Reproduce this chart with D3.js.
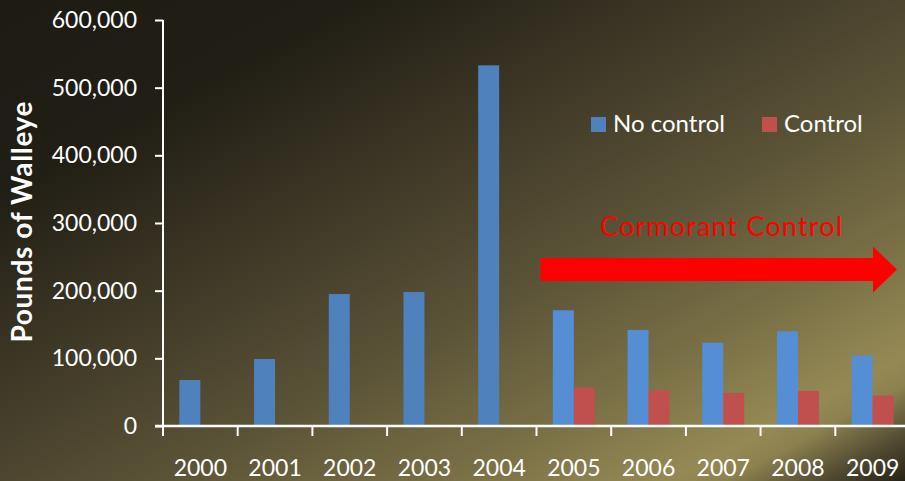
<!DOCTYPE html>
<html>
<head>
<meta charset="utf-8">
<script src="https://cdn.jsdelivr.net/npm/d3@7"></script>
<style>
  html, body { margin: 0; padding: 0; background: #1d1b13; }
  svg { display: block; font-family: Lato, "Open Sans", sans-serif; }
</style>
</head>
<body>
<div id="vis"></div>
<script>
// data
const years = ["2000", "2001", "2002", "2003", "2004", "2005", "2006", "2007", "2008", "2009"];
const noControl = [68000, 99000, 195000, 198000, 533000, 171000, 142000, 123000, 140000, 104000];
const control = [null, null, null, null, null, 57000, 53000, 49000, 52000, 45000];
const seriesNames = ["No control", "Control"];
const yTicks = [0, 100000, 200000, 300000, 400000, 500000, 600000];

const width = 905, height = 481;
const plotLeft = 163, plotRight = 910, plotTop = 20, plotBottom = 426;

const svg = d3.select("#vis").append("svg")
  .attr("width", width)
  .attr("height", height);

// background gradient
const defs = svg.append("defs");
const grad = defs.append("linearGradient")
  .attr("id", "bg")
  .attr("x1", 0).attr("y1", 0).attr("x2", 1).attr("y2", 1);
[[0, "#1d1b13"], [0.2, "#211e15"], [0.45, "#463f2b"], [0.6, "#5d5538"],
 [0.75, "#7a7046"], [0.87, "#958a55"], [0.9, "#8c814f"], [0.95, "#554e34"], [1, "#262218"]]
  .forEach(s => grad.append("stop").attr("offset", s[0]).attr("stop-color", s[1]));
svg.append("rect").attr("width", width).attr("height", height).attr("fill", "url(#bg)");

const x0 = d3.scaleBand().domain(years).range([plotLeft, plotRight]).padding(0);
const x1 = d3.scaleBand().domain(seriesNames).range([0, x0.bandwidth()])
  .paddingInner(0).paddingOuter(0.78);
const y = d3.scaleLinear().domain([0, 600000]).range([plotBottom, plotTop]);

const rows = years.map((yr, i) => ({ year: yr, vals: [
  { s: "No control", v: noControl[i] },
  { s: "Control", v: control[i] }
]}));

const colors = { "No control": "#4f81bd", "Control": "#c0504d" };

// bars
const groups = svg.append("g").selectAll("g")
  .data(rows)
  .join("g")
    .attr("transform", d => `translate(${x0(d.year)},0)`);

groups.selectAll("rect")
  .data(d => d.vals.filter(v => v.v != null).map(v => ({ ...v, year: d.year })))
  .join("rect")
    .attr("x", d => x1(d.s))
    .attr("y", d => y(d.v))
    .attr("width", x1.bandwidth())
    .attr("height", d => y(0) - y(d.v))
    .attr("fill", d => (d.s === "No control" && +d.year >= 2005) ? "#558ed5" : colors[d.s]);

// y axis
const yAxis = svg.append("g")
  .attr("transform", `translate(${plotLeft},0)`)
  .call(d3.axisLeft(y).tickValues(yTicks).tickFormat(d3.format(",")).tickSize(8).tickPadding(18));
yAxis.select(".domain").remove();
yAxis.selectAll(".tick line").attr("stroke", "white").attr("stroke-width", 2);
yAxis.selectAll(".tick text")
  .attr("fill", "white")
  .style("font-size", "23px")
  .style("font-family", "Lato, sans-serif");
svg.append("line")
  .attr("x1", plotLeft).attr("x2", plotLeft)
  .attr("y1", plotTop).attr("y2", plotBottom + 10)
  .attr("stroke", "white").attr("stroke-width", 2);

// x axis
svg.append("line")
  .attr("x1", plotLeft - 8).attr("x2", width)
  .attr("y1", plotBottom).attr("y2", plotBottom)
  .attr("stroke", "white").attr("stroke-width", 2.5);
svg.append("g").selectAll("line")
  .data(years)
  .join("line")
    .attr("x1", d => x0(d)).attr("x2", d => x0(d))
    .attr("y1", plotBottom).attr("y2", plotBottom + 10)
    .attr("stroke", "white").attr("stroke-width", 2);
svg.append("g").selectAll("text")
  .data(years)
  .join("text")
    .attr("x", d => x0(d) + x0.bandwidth() / 2)
    .attr("y", 476)
    .attr("text-anchor", "middle")
    .attr("fill", "white")
    .style("font-size", "23px")
    .text(d => d);

// y title
svg.append("text")
  .attr("transform", "translate(32,222) rotate(-90)")
  .attr("text-anchor", "middle")
  .attr("fill", "white")
  .style("font-size", "28px")
  .style("font-weight", "bold")
  .attr("textLength", 241)
  .text("Pounds of Walleye");

// legend
const legend = svg.append("g").selectAll("g")
  .data(seriesNames)
  .join("g")
    .attr("transform", (d, i) => `translate(${[591, 762][i]},117)`);
legend.append("rect")
  .attr("width", 15).attr("height", 15)
  .attr("fill", d => colors[d]);
legend.append("text")
  .attr("x", 22).attr("y", 15)
  .attr("fill", "white")
  .style("font-size", "24px")
  .text(d => d);

// annotation
svg.append("text")
  .attr("x", 600).attr("y", 236)
  .attr("fill", "#ff0000")
  .style("font-size", "27px")
  .attr("textLength", 242)
  .text("Cormorant Control");

const ax = x0("2005") + 4, ay = 269.5;
svg.append("path")
  .attr("d", `M${ax},${ay - 11.5} L873,${ay - 11.5} L873,${ay - 23} L897,${ay} L873,${ay + 23} L873,${ay + 11.5} L${ax},${ay + 11.5} Z`)
  .attr("fill", "#ff0000");
</script>
</body>
</html>
